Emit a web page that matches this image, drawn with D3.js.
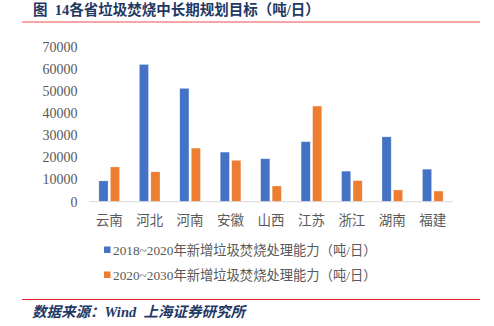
<!DOCTYPE html>
<html><head><meta charset="utf-8">
<script src="https://cdn.jsdelivr.net/npm/d3@7"></script>
<style>
body{margin:0;background:#fff;}
svg{display:block;}
text{white-space:pre;}
</style></head>
<body>
<script>
const categories = ["云南","河北","河南","安徽","山西","江苏","浙江","湖南","福建"];
const series1 = [9400, 62000, 51200, 22400, 19400, 27100, 13800, 29300, 14700];
const series2 = [15700, 13500, 24200, 18700, 7100, 43200, 9500, 5300, 4800];
const seriesNames = ["2018~2020年新增垃圾焚烧处理能力（吨/日）","2020~2030年新增垃圾焚烧处理能力（吨/日）"];
const yTicks = [0,10000,20000,30000,40000,50000,60000,70000];
const titleText = "图  14各省垃圾焚烧中长期规划目标（吨/日）";
const sourceText = "数据来源：Wind  上海证券研究所";
const colors = ["#4472C4","#ED7D31"];

const W=494,H=326;
const svg=d3.select("body").append("svg").attr("width",W).attr("height",H);
const font="'Liberation Serif','Noto Sans CJK SC',serif";

// title
svg.append("text").attr("x",33).attr("y",15).attr("font-family",font).attr("font-weight","bold")
 .attr("font-size",14.5).attr("fill","#1F3864").text(titleText);
svg.append("line").attr("x1",22).attr("x2",480).attr("y1",22).attr("y2",22).attr("stroke","#F4868A").attr("stroke-width",1.5);

const y=d3.scaleLinear().domain([0,70000]).range([201.7,46.7]);
const x=d3.scaleBand().domain(categories).range([89,453]);
const xs=d3.scaleBand().domain([0,1]).range([0,x.bandwidth()]).paddingInner(0.2).paddingOuter(0.86);

// y tick labels
svg.selectAll("text.yt").data(yTicks).join("text").attr("class","yt")
 .attr("x",77.5).attr("y",d=>y(d)).attr("dy","0.35em").attr("text-anchor","end")
 .attr("font-family",font).attr("font-size",14).attr("fill","#595959").text(d=>d);

// bars
[series1,series2].forEach((s,si)=>{
  svg.selectAll("rect.s"+si).data(s).join("rect").attr("class","s"+si)
   .attr("x",(d,i)=>x(categories[i])+xs(si)).attr("width",xs.bandwidth())
   .attr("y",d=>y(d)).attr("height",d=>y(0)-y(d))
   .attr("fill",colors[si]).attr("stroke","#fff").attr("stroke-opacity",0.5).attr("stroke-width",0.6);
});

// axis line
svg.append("line").attr("x1",89).attr("x2",453).attr("y1",y(0)).attr("y2",y(0)).attr("stroke","#D9D9D9").attr("stroke-width",1);

// category labels
svg.selectAll("text.xt").data(categories).join("text").attr("class","xt")
 .attr("x",d=>x(d)+x.bandwidth()/2).attr("y",220).attr("dy","0.35em").attr("text-anchor","middle")
 .attr("font-family",font).attr("font-size",13.5).attr("fill","#595959").text(d=>d);

// legend
seriesNames.forEach((n,i)=>{
  const ly=250+i*25;
  svg.append("rect").attr("x",104).attr("y",ly-3.5).attr("width",6.5).attr("height",6.5).attr("fill",colors[i]);
  svg.append("text").attr("x",113).attr("y",ly).attr("dy","0.35em").attr("font-family",font)
   .attr("font-size",13.3).attr("fill","#595959").text(n);
});

// source
svg.append("line").attr("x1",22).attr("x2",480).attr("y1",299.5).attr("y2",299.5).attr("stroke","#E8262A").attr("stroke-width",1);
svg.append("text").attr("x",32).attr("y",317).attr("font-family",font).attr("font-weight","bold").attr("font-style","italic")
 .attr("font-size",14.5).attr("fill","#1F3864").text(sourceText);
</script>
</body></html>
